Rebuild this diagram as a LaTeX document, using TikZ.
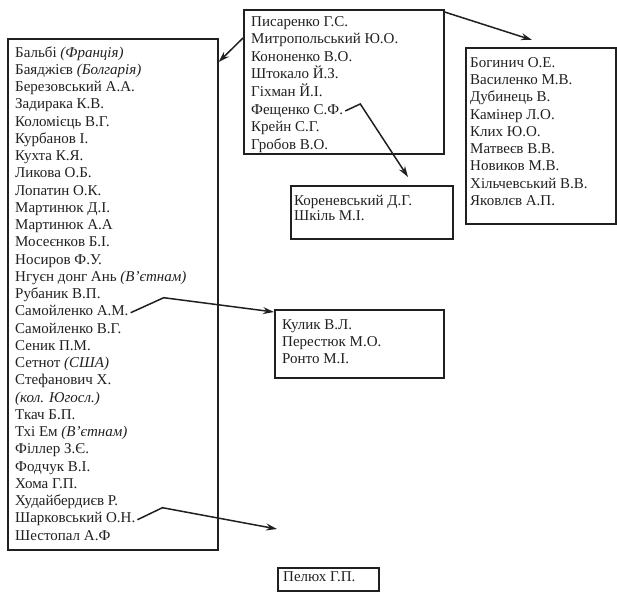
\documentclass[tikz,border=0pt]{standalone}
\usepackage{fontspec}
\setmainfont{Liberation Serif}
\usetikzlibrary{matrix,positioning,arrows.meta}

\definecolor{ink}{HTML}{202020}
\tikzset{
  namebox/.style={draw=ink, line width=1.6pt, anchor=north west, inner sep=0pt},
  namelist/.style={matrix of nodes, inner sep=0pt, row sep=#1,
    nodes={anchor=base west, inner sep=0pt, text height=10pt, text depth=3.5pt,
      font=\fontsize{15}{17}\selectfont, text=ink}},
  namelist/.default=3.8pt,
  link/.style={draw=ink, line width=1.5pt, -{Stealth[length=11pt,width=7pt]}},
}

\begin{document}
\begin{tikzpicture}[x=1pt, y=-1pt]
  \useasboundingbox (0,0) rectangle (617,593);

  % boxes
  \node[namebox, minimum width=210pt, minimum height=511pt] (bA) at (7,38) {};
  \node[namebox, minimum width=200pt, minimum height=144pt] (bT) at (243,9) {};
  \node[namebox, minimum width=150pt, minimum height=176pt] (bR) at (465,47) {};
  \node[namebox, minimum width=162pt, minimum height=53pt] (bK) at (290,185) {};
  \node[namebox, minimum width=169pt, minimum height=68pt] (bS) at (274,309) {};
  \node[namebox, minimum width=101pt, minimum height=23pt] (bP) at (277,567) {};

  % lists
  \matrix (mA) [namelist=3.75pt, below right=9pt and 8pt of bA.north west]{
    Бальбі \textit{(Франція)} \\
    Баяджієв \textit{(Болгарія)} \\
    Березовський А.А. \\
    Задирака К.В. \\
    Коломієць В.Г. \\
    Курбанов І. \\
    Кухта К.Я. \\
    Ликова О.Б. \\
    Лопатин О.К. \\
    Мартинюк Д.І. \\
    Мартинюк А.А \\
    Мосеєнков Б.І. \\
    Носиров Ф.У. \\
    Нгуєн донг Ань \textit{(В’єтнам)} \\
    Рубаник В.П. \\
    Самойленко А.М. \\
    Самойленко В.Г. \\
    Сеник П.М. \\
    Сетнот \textit{(США)} \\
    Стефанович Х. \\
    \textit{(кол. Югосл.)} \\
    Ткач Б.П. \\
    Тхі Ем \textit{(В’єтнам)} \\
    Філлер З.Є. \\
    Фодчук В.І. \\
    Хома Г.П. \\
    Худайбердиєв Р. \\
    Шарковський О.Н. \\
    Шестопал А.Ф \\
  };
  \matrix (mT) [namelist=4.1pt, below right=7pt and 8pt of bT.north west]{
    Писаренко Г.С. \\
    Митропольський Ю.О. \\
    Кононенко В.О. \\
    Штокало Й.З. \\
    Гіхман Й.І. \\
    Фещенко С.Ф. \\
    Крейн С.Г. \\
    Гробов В.О. \\
  };
  \matrix (mR) [namelist, below right=10pt and 5pt of bR.north west]{
    Богинич О.Е. \\
    Василенко М.В. \\
    Дубинець В. \\
    Камінер Л.О. \\
    Клих Ю.О. \\
    Матвеєв В.В. \\
    Новиков М.В. \\
    Хільчевський В.В. \\
    Яковлєв А.П. \\
  };
  \matrix (mK) [namelist=1.5pt, below right=10pt and 4pt of bK.north west]{
    Кореневський Д.Г. \\
    Шкіль М.І. \\
  };
  \matrix (mS) [namelist=3.5pt, below right=10pt and 8pt of bS.north west]{
    Кулик В.Л. \\
    Перестюк М.О. \\
    Ронто М.І. \\
  };
  \node[namelist, matrix, below right=4pt and 6pt of bP.north west] (mP) {Пелюх Г.П. \\};

  % links
  \coordinate[above=38pt of bP.north west] (tipP);
  \draw[link] ([yshift=-29pt]bT.north west) -- ([yshift=-24pt]bA.north east);
  \draw[link] ([yshift=-3pt]bT.north east) -- ([shift={(67pt,7pt)}]bR.north west);
  \draw[link] ([xshift=2pt]mT-6-1.east) -- ++(15,-7) -- ([shift={(118pt,8pt)}]bK.north west);
  \draw[link] ([xshift=2pt]mA-16-1.east) -- ++(33,-15) -- ([yshift=-3pt]bS.north west);
  \draw[link] ([xshift=2pt]mA-28-1.east) -- ++(25,-12) -- (tipP);
\end{tikzpicture}
\end{document}
